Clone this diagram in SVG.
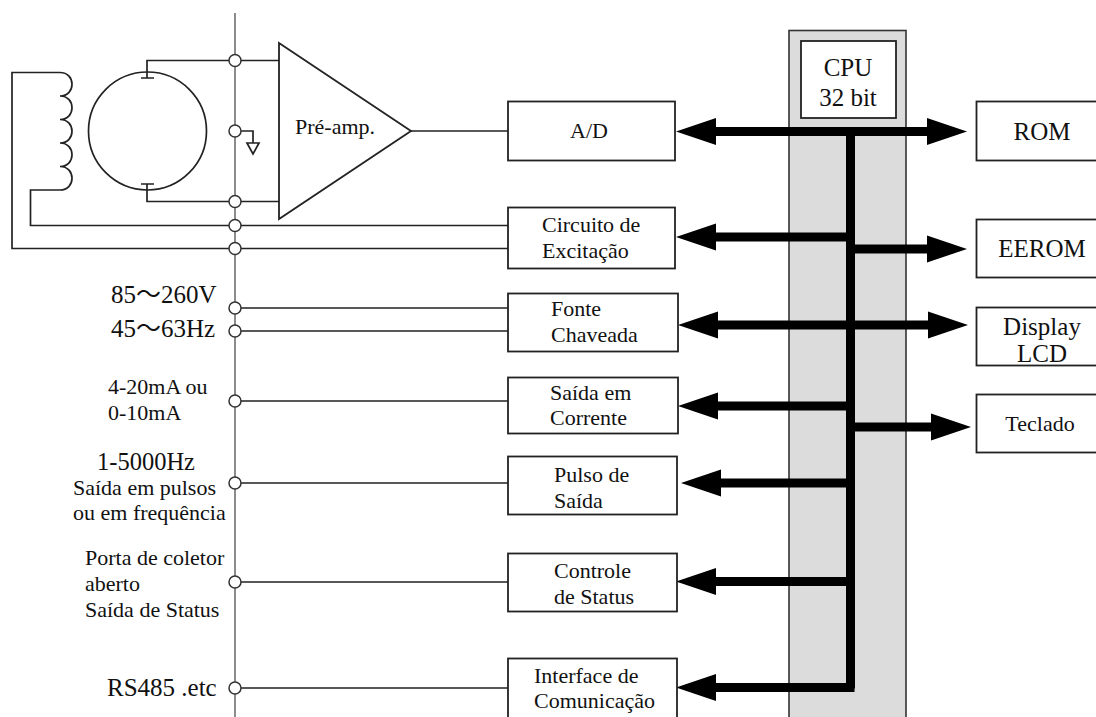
<svg xmlns="http://www.w3.org/2000/svg" width="1096" height="717" viewBox="0 0 1096 717">
<style>
text{font-family:"Liberation Serif","Noto Sans CJK JP",serif;fill:#111;font-size:22px}
.m{text-anchor:middle}
.l{font-size:25px}
.box{fill:#fff;stroke:#222;stroke-width:1.800}
.w{fill:none;stroke:#222;stroke-width:1.700}
.t{fill:#fff;stroke:#333;stroke-width:1.500}
.bus{fill:none;stroke:#000;stroke-width:9}
</style>
<defs>
<polygon id="al" points="0,0 40,-13.500 40,13.500" fill="#000"/>
<polygon id="ar" points="0,0 -40,-13.500 -40,13.500" fill="#000"/>
</defs>
<g id="cpu-band"><rect x="789" y="30.500" width="117" height="690" fill="#dcdcdc" stroke="#333" stroke-width="1.600"/></g>
<g id="rail"><line x1="235" y1="13" x2="235" y2="717" stroke="#666" stroke-width="1.500"/></g>
<g id="connectors">
<path class="w" d="M279 60.500H147V78M141 78H154M141 184H154M147 184V201.500H279"/>
<path class="w" d="M411 131H508"/>
<path class="w" d="M60 72.500H12V248.500H508M60 190H30.500V225.500H508"/>
<path class="w" d="M60 72.500c16 0 16 23.500 0 23.500c16 0 16 23.500 0 23.500c16 0 16 23.500 0 23.500c16 0 16 23.500 0 23.500c16 0 16 23.500 0 23.500"/>
<path class="w" d="M235 131H253V143"/>
<path class="w" d="M235 308H508M235 331H508M235 401H508M235 483H508M235 582H508M235 688H508"/>
<path class="bus" d="M850.500 136V688.500"/>
<path class="bus" d="M710 131.500H935M710 237H850M850 249H935M712 325H935M712 406H850M850 427H935M715 483H850M710 581.500H850M710 687.500H854.500"/>
<use href="#al" x="676" y="131.500"/><use href="#ar" x="967" y="131.500"/>
<use href="#al" x="676" y="237"/><use href="#ar" x="967" y="249"/>
<use href="#al" x="678" y="325"/><use href="#ar" x="968" y="325"/>
<use href="#al" x="678" y="406"/><use href="#ar" x="971" y="427"/>
<use href="#al" x="681" y="483"/>
<use href="#al" x="676" y="581.500"/>
<use href="#al" x="676" y="687.500"/>
</g>
<g id="sensor"><circle cx="147.500" cy="131" r="59" class="w"/></g>
<g id="ground"><polygon class="w" points="247,143 259,143 253,154"/></g>
<g id="terminals">
<circle class="t" cx="235" cy="60.500" r="6"/><circle class="t" cx="235" cy="131" r="6"/><circle class="t" cx="235" cy="201.500" r="6"/>
<circle class="t" cx="235" cy="225.500" r="6"/><circle class="t" cx="235" cy="248.500" r="6"/><circle class="t" cx="235" cy="308" r="6"/>
<circle class="t" cx="235" cy="331" r="6"/><circle class="t" cx="235" cy="401" r="6"/><circle class="t" cx="235" cy="483" r="6"/>
<circle class="t" cx="235" cy="582" r="6"/><circle class="t" cx="235" cy="688" r="6"/>
</g>
<g id="preamp"><polygon class="box" points="279,43 411,131 279,219"/><text x="295" y="134">Pré-amp.</text></g>
<g id="ad"><rect class="box" x="508" y="101.500" width="167" height="59"/><text class="m" x="589" y="138">A/D</text></g>
<g id="excitacao"><rect class="box" x="508" y="207.500" width="167" height="61"/><text x="542" y="232">Circuito de</text><text x="542" y="258">Excitação</text></g>
<g id="fonte"><rect class="box" x="508" y="293.500" width="170" height="58"/><text x="551" y="316">Fonte</text><text x="551" y="342">Chaveada</text></g>
<g id="corrente"><rect class="box" x="508" y="377.500" width="170" height="56"/><text x="550" y="400">Saída em</text><text x="550" y="425">Corrente</text></g>
<g id="pulso"><rect class="box" x="508" y="456.500" width="169" height="58"/><text x="554" y="482">Pulso de</text><text x="554" y="508">Saída</text></g>
<g id="controle"><rect class="box" x="508" y="553.500" width="169" height="58"/><text x="554" y="578">Controle</text><text x="554" y="604">de Status</text></g>
<g id="interface"><rect class="box" x="508" y="658.500" width="169" height="60"/><text x="534" y="683">Interface de</text><text x="534" y="708">Comunicação</text></g>
<g id="cpu"><rect class="box" x="801" y="41" width="95" height="77"/><text class="m l" x="848" y="76">CPU</text><text class="m l" x="848" y="106">32 bit</text></g>
<g id="rom"><rect class="box" x="976.500" y="101.500" width="125" height="59"/><text class="m l" x="1042" y="140">ROM</text></g>
<g id="eerom"><rect class="box" x="976.500" y="219.500" width="125" height="58"/><text class="m l" x="1042" y="257">EEROM</text></g>
<g id="display"><rect class="box" x="976.500" y="307.500" width="125" height="58"/><text class="m l" x="1042" y="335">Display</text><text class="m l" x="1042" y="362">LCD</text></g>
<g id="teclado"><rect class="box" x="976.500" y="394.500" width="125" height="58"/><text class="m" x="1040" y="431">Teclado</text></g>
<g id="labels">
<text class="l" x="111" y="303">85～260V</text>
<text class="l" x="111" y="337">45～63Hz</text>
<text x="108" y="394">4-20mA ou</text>
<text x="108" y="420">0-10mA</text>
<text class="l" x="97" y="470" style="font-size:24.500px">1-5000Hz</text>
<text x="73" y="495">Saída em pulsos</text>
<text x="73" y="520">ou em frequência</text>
<text x="85" y="565">Porta de coletor</text>
<text x="85" y="591">aberto</text>
<text x="85" y="617">Saída de Status</text>
<text class="l" x="107" y="696">RS485 .etc</text>
</g>
</svg>
